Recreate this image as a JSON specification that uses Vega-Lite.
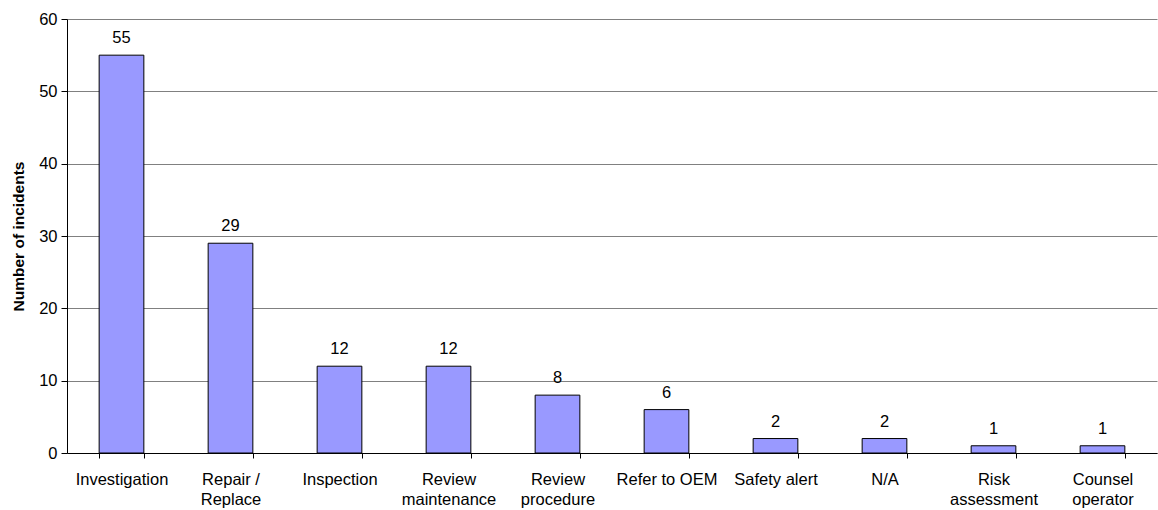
{
  "$schema": "https://vega.github.io/schema/vega-lite/v6.json",
  "autosize": "none",
  "width": 1090,
  "height": 434,
  "padding": {"left": 67, "top": 19, "right": 1, "bottom": 57},
  "background": "white",
  "config": {
    "view": {"stroke": null},
    "font": "Liberation Sans"
  },
  "data": {
    "values": [
      {"action": "Investigation", "count": 55},
      {"action": "Repair /\nReplace", "count": 29},
      {"action": "Inspection", "count": 12},
      {"action": "Review\nmaintenance", "count": 12},
      {"action": "Review\nprocedure", "count": 8},
      {"action": "Refer to OEM", "count": 6},
      {"action": "Safety alert", "count": 2},
      {"action": "N/A", "count": 2},
      {"action": "Risk\nassessment", "count": 1},
      {"action": "Counsel\noperator", "count": 1}
    ]
  },
  "encoding": {
    "x": {
      "field": "action",
      "type": "nominal",
      "sort": null,
      "scale": {"paddingInner": 0.59, "paddingOuter": 0.295},
      "axis": {
        "title": null,
        "labelAngle": 0,
        "labelExpr": "split(datum.label, '\\n')",
        "labelFont": "Liberation Sans",
        "labelFontSize": 16.5,
        "labelColor": "black",
        "labelLineHeight": 20,
        "labelPadding": 13,
        "tickBand": "extent",
        "tickColor": "black",
        "tickSize": 5,
        "domainColor": "black",
        "grid": false
      }
    },
    "y": {
      "field": "count",
      "type": "quantitative",
      "scale": {"domain": [0, 60], "nice": false},
      "axis": {
        "title": "Number of incidents",
        "titleFont": "Liberation Sans",
        "titleFontSize": 15.5,
        "titleFontWeight": "bold",
        "titleColor": "black",
        "titlePadding": 12,
        "values": [0, 10, 20, 30, 40, 50, 60],
        "labelFont": "Liberation Sans",
        "labelFontSize": 16.5,
        "labelColor": "black",
        "labelPadding": 4,
        "tickColor": "black",
        "tickSize": 6,
        "domainColor": "black",
        "grid": true,
        "gridColor": "#808080",
        "gridWidth": 1
      }
    }
  },
  "layer": [
    {
      "mark": {"type": "bar", "fill": "#9999FF", "stroke": "black", "strokeWidth": 1}
    },
    {
      "mark": {"type": "text", "baseline": "alphabetic", "dy": -12, "fontSize": 16.5, "font": "Liberation Sans", "color": "black"},
      "encoding": {"text": {"field": "count", "type": "quantitative"}}
    }
  ]
}
